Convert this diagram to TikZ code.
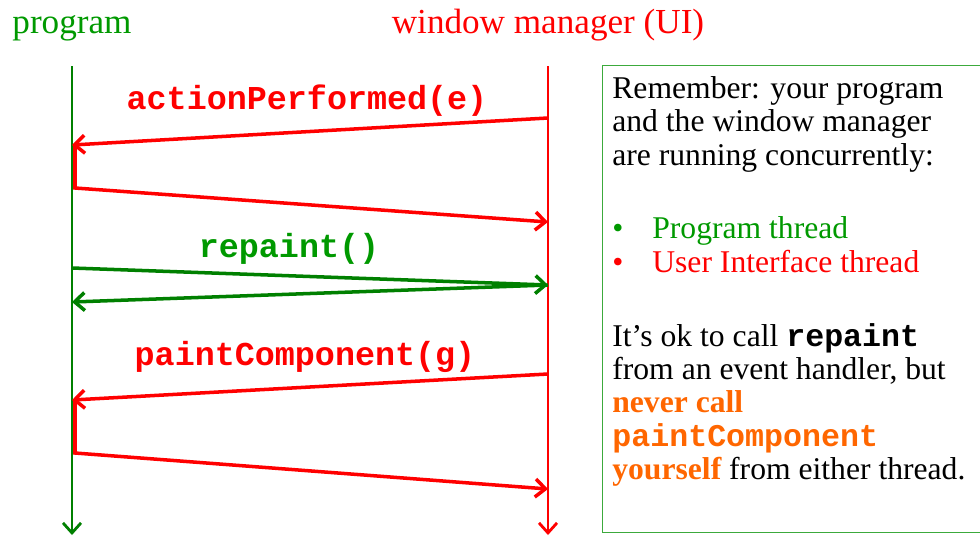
\documentclass[tikz,border=0pt]{standalone}
\usepackage{fontspec}
\setmainfont{Liberation Serif}
\setmonofont{Liberation Mono}
\usetikzlibrary{arrows.meta,positioning}
\definecolor{progline}{RGB}{0,128,0}
\definecolor{progtext}{RGB}{0,153,0}
\definecolor{wmred}{RGB}{255,0,0}
\definecolor{warnorange}{RGB}{255,102,0}
\definecolor{boxgreen}{RGB}{60,170,60}
\tikzset{
  lifeline/.style={line width=1.6pt,-{Straight Barb[length=2mm,width=3.6mm]}},
  msg/.style={line width=2pt,-{Straight Barb[length=2mm,width=3.6mm]}},
  title/.style={font=\fontsize{20}{24}\selectfont,anchor=base},
  call/.style={font=\fontsize{19}{22}\selectfont\ttfamily\bfseries,anchor=base},
}
\begin{document}
\begin{tikzpicture}[x=0.2mm,y=-0.2mm]
\useasboundingbox (0,0) rectangle (980,536);
% the two threads
\node[title,text=progtext] (prog) at (72,33) {program};
\node[title,text=wmred] (wm) at (548,33) {window manager (UI)};
\coordinate (p0) at (72,66);
\coordinate (pEnd) at (72,535);
\coordinate (w0) at (548,66);
\coordinate (wEnd) at (548,535);
\draw[lifeline,progline] (p0) -- (pEnd);
\draw[lifeline,wmred] (w0) -- (wEnd);
% actionPerformed
\coordinate (w1) at (548,118);
\coordinate (p1) at (72,145);
\coordinate (p1r) at (75,145);
\coordinate (p2r) at (75,188);
\coordinate (w2) at (548,222);
\draw[msg,wmred] (w1) -- (p1);
\draw[msg,wmred] (p1r) -- (p2r) -- (w2);
\node[call,text=wmred] (ap) at (307,109) {actionPerformed(e)};
% repaint
\coordinate (p3) at (72,268);
\coordinate (w3) at (548,285);
\coordinate (p4) at (72,302);
\draw[msg,progline] (p3) -- (w3);
\draw[msg,progline] (w3) -- (p4);
\node[call,text=progtext] (rp) at (289,257) {repaint()};
% paintComponent
\coordinate (w5) at (548,374);
\coordinate (p5) at (72,400);
\coordinate (p5r) at (75,400);
\coordinate (p6r) at (75,453);
\coordinate (w6) at (548,489);
\draw[msg,wmred] (w5) -- (p5);
\draw[msg,wmred] (p5r) -- (p6r) -- (w6);
\node[call,text=wmred] (pc) at (305,365) {paintComponent(g)};
% note box
\node[draw=boxgreen,line width=0.8pt,anchor=north west,inner sep=0pt,minimum width=80mm,minimum height=93.4mm] (box) at (602,65) {};
\node[anchor=north west,inner sep=0pt,align=left,font=\fontsize{18}{19}\selectfont] (note) at (612,76) {Remember: your program\\
and the window manager\\
are running concurrently:\\[23pt]
\textcolor{progtext}{\makebox[8mm][l]{\textbullet}Program thread}\\
\textcolor{wmred}{\makebox[8mm][l]{\textbullet}User Interface thread}\\[23pt]
It’s ok to call {\ttfamily\bfseries repaint}\\
from an event handler, but\\
\textcolor{warnorange}{\bfseries never call}\\
\textcolor{warnorange}{\ttfamily\bfseries paintComponent}\\
\textcolor{warnorange}{\bfseries yourself} from either thread.};
\end{tikzpicture}
\end{document}
